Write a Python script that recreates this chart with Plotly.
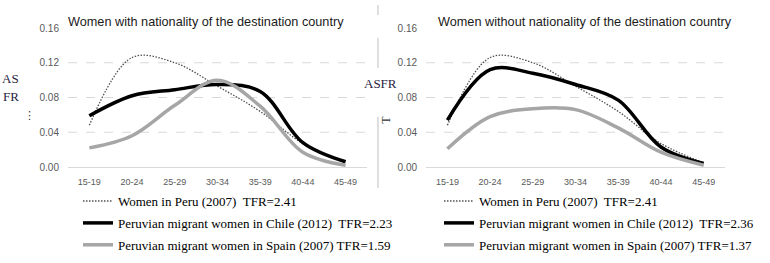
import plotly.graph_objects as go
from plotly.subplots import make_subplots

categories = ["15-19", "20-24", "25-29", "30-34", "35-39", "40-44", "45-49"]
peru_2007 = [0.048, 0.126, 0.120, 0.093, 0.064, 0.027, 0.005]
chile_with_nat = [0.059, 0.082, 0.089, 0.095, 0.087, 0.028, 0.006]
spain_with_nat = [0.022, 0.036, 0.071, 0.100, 0.070, 0.017, 0.002]
chile_without_nat = [0.054, 0.112, 0.108, 0.095, 0.077, 0.023, 0.004]
spain_without_nat = [0.021, 0.058, 0.067, 0.066, 0.045, 0.017, 0.002]

y_ticks = [0.0, 0.04, 0.08, 0.12, 0.16]
y_tick_text = ["0.00", "0.04", "0.08", "0.12", "0.16"]
grid_vals = [0.04, 0.08, 0.12]

titles = ["Women with nationality of the destination country",
          "Women without nationality of the destination country"]
names_left = ["Women in Peru (2007)  TFR=2.41",
              "Peruvian migrant women in Chile (2012)  TFR=2.23",
              "Peruvian migrant women in Spain (2007) TFR=1.59"]
names_right = ["Women in Peru (2007)  TFR=2.41",
               "Peruvian migrant women in Chile (2012)  TFR=2.36",
               "Peruvian migrant women in Spain (2007) TFR=1.37"]

fig = make_subplots(rows=1, cols=2, horizontal_spacing=0.09)

styles = [dict(color="#505050", width=1.3, dash="1.5px,1.5px"),
          dict(color="#000000", width=3.5),
          dict(color="#a6a6a6", width=3.5)]

left_series = [peru_2007, chile_with_nat, spain_with_nat]
right_series = [peru_2007, chile_without_nat, spain_without_nat]

for i, (vals, name) in enumerate(zip(left_series, names_left)):
    fig.add_trace(go.Scatter(x=categories, y=vals, mode="lines", name=name,
                             line=dict(shape="spline", smoothing=1, **styles[i]),
                             legend="legend", legendgroup="l%d" % i), row=1, col=1)
for i, (vals, name) in enumerate(zip(right_series, names_right)):
    fig.add_trace(go.Scatter(x=categories, y=vals, mode="lines", name=name,
                             line=dict(shape="spline", smoothing=1, **styles[i]),
                             legend="legend2", legendgroup="r%d" % i), row=1, col=2)

axis_x = dict(type="category", range=[-0.5, 6.5], showgrid=False, showline=True,
              linecolor="#d9d9d9", linewidth=1, ticks="", ticklabelstandoff=6,
              tickfont=dict(family="Liberation Sans, Arial", size=9, color="#595959"))
axis_y = dict(range=[0, 0.16], tickvals=y_ticks, ticktext=y_tick_text, showgrid=False,
              zeroline=False, showline=False, ticks="", ticklabelstandoff=8,
              tickfont=dict(family="Liberation Sans, Arial", size=10, color="#595959"))

fig.update_xaxes(**axis_x)
fig.update_yaxes(**axis_y)

for xref, yref in [("x domain", "y"), ("x2 domain", "y2")]:
    for g in grid_vals:
        fig.add_shape(type="line", xref=xref, yref=yref, x0=0, x1=1, y0=g, y1=g,
                      line=dict(color="#d9d9d9", width=1, dash="dash"), layer="below")

legend_font = dict(family="Liberation Serif, Times New Roman, serif", size=13, color="#000000")
fig.update_layout(
    width=770, height=263,
    margin=dict(l=68, r=45, t=28, b=96, autoexpand=False),
    paper_bgcolor="white", plot_bgcolor="white",
    font=dict(family="Liberation Sans, Arial", color="#000000"),
    legend=dict(x=0.0152, y=-0.137, xanchor="left", yanchor="top", font=legend_font,
                bgcolor="rgba(0,0,0,0)", traceorder="grouped", tracegroupgap=2,
                itemwidth=30),
    legend2=dict(x=0.5647, y=-0.137, xanchor="left", yanchor="top", font=legend_font,
                 bgcolor="rgba(0,0,0,0)", traceorder="grouped", tracegroupgap=2,
                 itemwidth=30),
)

# panel titles
title_font = dict(family="Liberation Sans, Arial", size=12.7, color="#1a1a1a")
fig.add_annotation(text=titles[0], xref="paper", yref="paper", x=0.2093, y=1.045,
                   xanchor="center", yanchor="middle", showarrow=False, font=title_font)
fig.add_annotation(text=titles[1], xref="paper", yref="paper", x=0.787, y=1.045,
                   xanchor="center", yanchor="middle", showarrow=False, font=title_font)

# stray text fragments visible in the source image
serif = dict(family="Liberation Serif, Times New Roman, serif", size=13, color="#1f2340")
fig.add_annotation(text="AS", xref="paper", yref="paper", x=-0.0868, y=0.64, showarrow=False,
                   xanchor="center", font=serif)
fig.add_annotation(text="FR", xref="paper", yref="paper", x=-0.0868, y=0.504, showarrow=False,
                   xanchor="center", font=serif)
fig.add_annotation(text="ASFR", xref="paper", yref="paper", x=0.4764, y=0.604, showarrow=False,
                   xanchor="center", font=serif)
fig.add_annotation(text="⋮", xref="paper", yref="paper", x=-0.058, y=0.37, showarrow=False,
                   xanchor="center", font=dict(family="DejaVu Sans", size=11, color="#333333"))
fig.add_annotation(text="T", xref="paper", yref="paper", x=0.484, y=0.34, showarrow=False,
                   xanchor="center", textangle=-90,
                   font=dict(family="Liberation Serif", size=12, color="#333333"))
for y0, y1 in [(1.094, 1.165), (0.712, 0.928), (-0.151, 0.36)]:
    fig.add_shape(type="line", xref="paper", yref="paper", x0=0.4718, x1=0.4718, y0=y0, y1=y1,
                  line=dict(color="#bfbfbf", width=1))

fig.write_html("out.html", config={"displayModeBar": False},
               post_script="document.body.style.margin='0px';")
